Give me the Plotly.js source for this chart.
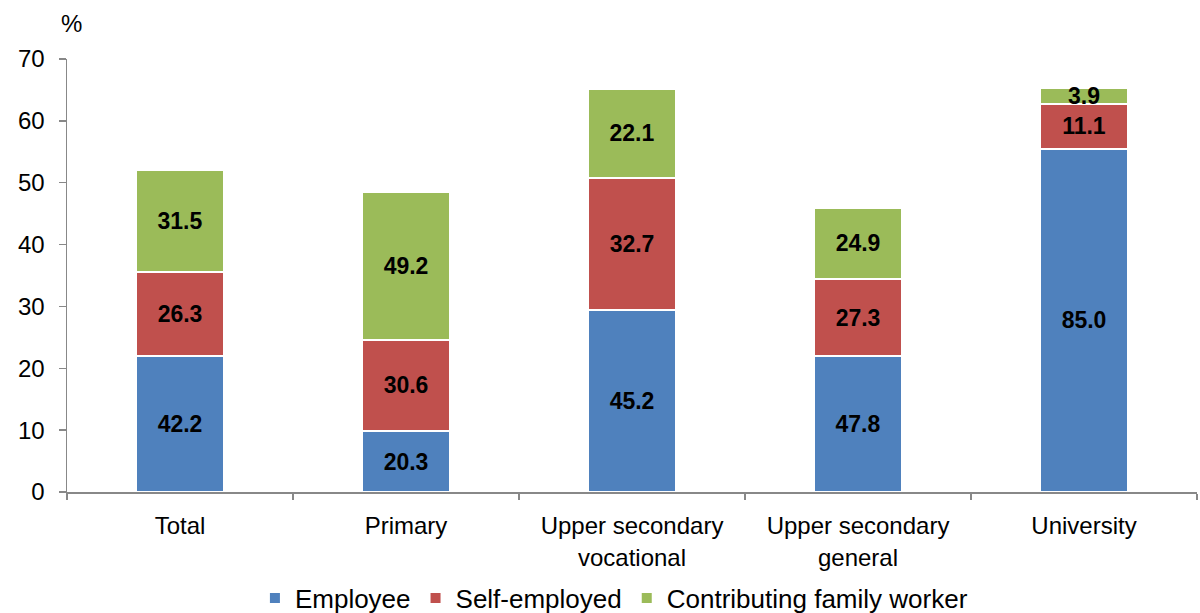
<!DOCTYPE html>
<html>
<head>
<meta charset="utf-8">
<script src="https://cdn.plot.ly/plotly-3.0.1.min.js"></script>
<style>html,body{margin:0;padding:0;background:#fff;}#chart{width:1200px;height:613px;}</style>
</head>
<body>
<div id="chart"></div>
<script>
// Categories (education level)
const categories = ["Total", "Primary", "Upper secondary<br>vocational", "Upper secondary<br>general", "University"];
// Total bar heights (% of axis)
const totals = [52.0, 48.4, 65.2, 45.9, 65.3];
// Shares within each bar (%), as labelled
const employeeShare = [42.2, 20.3, 45.2, 47.8, 85.0];
const selfEmployedShare = [26.3, 30.6, 32.7, 27.3, 11.1];
const familyWorkerShare = [31.5, 49.2, 22.1, 24.9, 3.9];
const seriesNames = ["Employee", "Self-employed", "Contributing family worker"];
const yTicks = [0, 10, 20, 30, 40, 50, 60, 70];

const colors = ["#4F81BD", "#C0504D", "#9BBB59"];
const shares = [employeeShare, selfEmployedShare, familyWorkerShare];
const font = "Liberation Sans, Arial, sans-serif";

const traces = shares.map((s, i) => ({
  type: "bar",
  name: seriesNames[i],
  x: categories,
  y: s.map((v, j) => totals[j] * v / 100),
  text: s.map(v => v.toFixed(1)),
  textposition: "inside",
  insidetextanchor: "middle",
  constraintext: "none",
  textfont: {family: font, size: 23, color: "#000", weight: "bold"},
  hoverinfo: "none",
  marker: {color: colors[i], line: {color: "#ffffff", width: 2}},
  width: 0.39
}));

const layout = {
  width: 1200, height: 613,
  margin: {l: 67, r: 3, t: 59, b: 121, autoexpand: false},
  barmode: "stack",
  paper_bgcolor: "#fff",
  plot_bgcolor: "#fff",
  font: {family: font, size: 24, color: "#000"},
  showlegend: true,
  legend: {
    orientation: "h", x: 0.484, xanchor: "center", y: -0.245, yanchor: "middle",
    font: {family: font, size: 26, color: "#000"},
    traceorder: "normal"
  },
  xaxis: {
    type: "category",
    showline: true, linecolor: "#888", linewidth: 1.5,
    ticks: "outside", tickson: "boundaries", ticklen: 6, tickcolor: "#888", tickwidth: 1.5,
    tickfont: {family: font, size: 24, color: "#000"},
    ticklabelstandoff: 12,
    showgrid: false, zeroline: false
  },
  yaxis: {
    range: [0, 70], tickvals: yTicks,
    showline: true, linecolor: "#888", linewidth: 1.5,
    ticks: "outside", ticklen: 7, tickcolor: "#888", tickwidth: 1.5,
    tickfont: {family: font, size: 24, color: "#000"},
    ticklabelstandoff: 9,
    showgrid: false, zeroline: false
  },
  annotations: [{
    text: "%", xref: "paper", yref: "paper", x: 0.004, y: 1.083,
    xanchor: "center", yanchor: "middle", showarrow: false,
    font: {family: font, size: 24, color: "#000"}
  }]
};

Plotly.newPlot("chart", traces, layout, {displayModeBar: false, staticPlot: true});
</script>
</body>
</html>
